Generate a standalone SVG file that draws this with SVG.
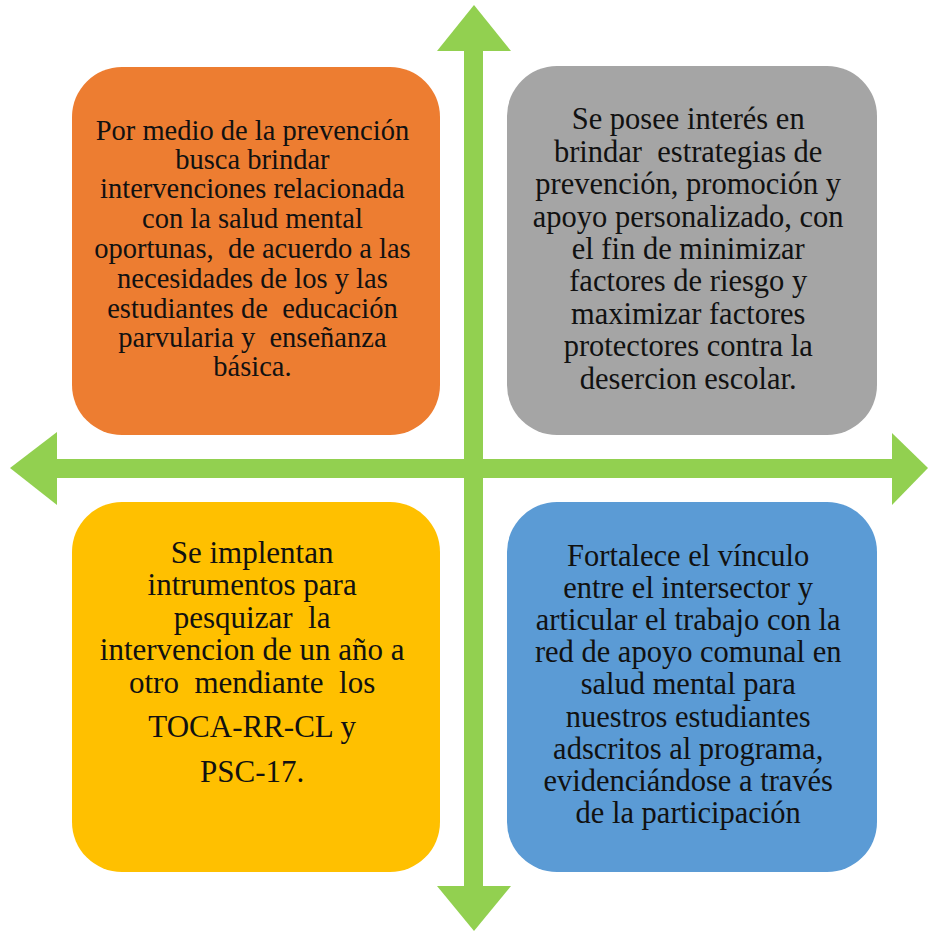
<svg xmlns="http://www.w3.org/2000/svg" width="929" height="932" viewBox="0 0 929 932">
<style>
.t{fill:#111;text-anchor:middle;white-space:pre;font-family:"Liberation Serif","DejaVu Serif",serif}
.a{fill:#92D050}
</style>
<rect width="929" height="932" fill="#fff"/>
<g id="connectors">
<rect class="a" x="464" y="48" width="19" height="840"/>
<rect class="a" x="54" y="459" width="840" height="19"/>
<polygon class="a" points="474,5 511,51 437,51"/>
<polygon class="a" points="474,931 511,886 437,886"/>
<polygon class="a" points="10,468 57,432 57,505"/>
<polygon class="a" points="928,468 892,433 892,505"/>
</g>
<g id="n1">
<rect x="72" y="67" width="368" height="368" rx="50" fill="#ED7D31"/>
<text class="t" font-size="28.5">
<tspan x="256" y="140">Por medio de la prevención</tspan>
<tspan x="256" y="169">busca brindar</tspan>
<tspan x="256" y="198">intervenciones relacionada</tspan>
<tspan x="256" y="228">con la salud mental</tspan>
<tspan x="256" y="258">oportunas,  de acuerdo a las</tspan>
<tspan x="256" y="288">necesidades de los y las</tspan>
<tspan x="256" y="318">estudiantes de  educación</tspan>
<tspan x="256" y="347">parvularia y  enseñanza</tspan>
<tspan x="256" y="376">básica.</tspan>
</text>
</g>
<g id="n2">
<rect x="507" y="66" width="370" height="369" rx="50" fill="#A5A5A5"/>
<text class="t" font-size="30.5">
<tspan x="692" y="129">Se posee interés en</tspan>
<tspan x="692" y="162">brindar  estrategias de</tspan>
<tspan x="692" y="194">prevención, promoción y</tspan>
<tspan x="692" y="227">apoyo personalizado, con</tspan>
<tspan x="692" y="259">el fin de minimizar</tspan>
<tspan x="692" y="291">factores de riesgo y</tspan>
<tspan x="692" y="324">maximizar factores</tspan>
<tspan x="692" y="356">protectores contra la</tspan>
<tspan x="692" y="389">desercion escolar.</tspan>
</text>
</g>
<g id="n3">
<rect x="72" y="502" width="368" height="370" rx="50" fill="#FFC000"/>
<text class="t" font-size="31">
<tspan x="256" y="563">Se implentan</tspan>
<tspan x="256" y="595">intrumentos para</tspan>
<tspan x="256" y="628">pesquizar  la</tspan>
<tspan x="256" y="660">intervencion de un año a</tspan>
<tspan x="256" y="693">otro  mendiante  los</tspan>
<tspan x="256" y="737">TOCA-RR-CL y</tspan>
<tspan x="256" y="782">PSC-17.</tspan>
</text>
</g>
<g id="n4">
<rect x="507" y="502" width="370" height="370" rx="50" fill="#5B9BD5"/>
<text class="t" font-size="30.5">
<tspan x="692" y="566">Fortalece el vínculo</tspan>
<tspan x="692" y="598">entre el intersector y</tspan>
<tspan x="692" y="630">articular el trabajo con la</tspan>
<tspan x="692" y="662">red de apoyo comunal en</tspan>
<tspan x="692" y="694">salud mental para</tspan>
<tspan x="692" y="727">nuestros estudiantes</tspan>
<tspan x="692" y="759">adscritos al programa,</tspan>
<tspan x="692" y="791">evidenciándose a través</tspan>
<tspan x="692" y="823">de la participación</tspan>
</text>
</g>
</svg>
